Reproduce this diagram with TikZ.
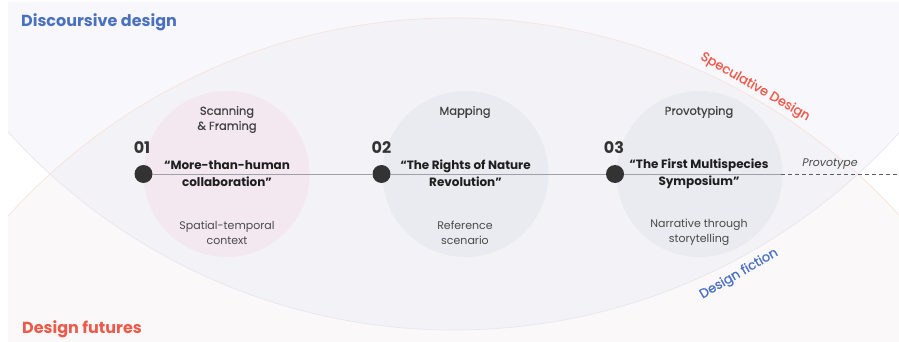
\documentclass[tikz,border=0pt]{standalone}
\usepackage{fontspec}
\setmainfont{Poppins}
\definecolor{topbg}{HTML}{F8F7FB}
\definecolor{lensbg}{HTML}{F3F2F7}
\definecolor{botbg}{HTML}{FBF8FA}
\definecolor{pinkc}{HTML}{F3E8F0}
\definecolor{grayc}{HTML}{EAEAF1}
\definecolor{dotc}{HTML}{333333}
\definecolor{linec}{HTML}{A0A0A8}
\definecolor{bluet}{HTML}{4A70C0}
\definecolor{redt}{HTML}{EE5A4A}
\definecolor{txt}{HTML}{1E1E1E}
\definecolor{subt}{HTML}{4A4A4A}
\definecolor{arcS}{HTML}{F5E3DC}
\definecolor{arcF}{HTML}{E6E6EF}
\begin{document}
\begin{tikzpicture}[x=1pt,y=-1pt,
  stepc/.style={circle,minimum size=166pt,inner sep=0pt},
  dotn/.style={circle,fill=dotc,minimum size=18pt,inner sep=0pt},
  steplbl/.style={inner sep=0pt,align=center,text=txt!85,font=\fontsize{11.5}{15}\selectfont\addfontfeature{FakeBold=0.5}},
  numl/.style={inner sep=0pt,text=dotc,font=\fontsize{16}{18}\selectfont\bfseries},
  ttl/.style={inner sep=0pt,align=center,text=txt,font=\fontsize{12}{17}\selectfont\bfseries},
  subl/.style={inner sep=0pt,align=center,text=subt,font=\fontsize{11}{15}\selectfont},
  provo/.style={inner sep=0pt,text=subt,font=\fontsize{11}{13}\selectfont\itshape},
  areal/.style={inner sep=0pt,font=\fontsize{16}{18}\selectfont\bfseries},
  rotl/.style={inner sep=0pt,font=\fontsize{13}{15}\selectfont\addfontfeature{FakeBold=0.6}},
  conn/.style={draw=linec,line width=0.9pt},
  dashconn/.style={draw=dotc!80,line width=0.9pt,dash pattern=on 4pt off 3pt}]
\useasboundingbox (0,0) rectangle (899,342);
% regions
\begin{scope}
  \clip (454,-271) circle[radius=601pt];
  \fill[topbg,even odd rule] (8,2) rectangle (899,342) (454,619) circle[radius=601pt];
  \fill[lensbg] (454,619) circle[radius=601pt];
\end{scope}
\begin{scope}
  \clip (454,619) circle[radius=601pt];
  \fill[botbg,even odd rule] (8,2) rectangle (899,342) (454,-271) circle[radius=601pt];
\end{scope}
\begin{scope}
  \clip (8,2) rectangle (899,342);
  \draw[arcS,line width=0.7pt] (454,619) circle[radius=601pt];
  \draw[arcF,line width=0.7pt] (454,-271) circle[radius=601pt];
\end{scope}
% step circles
\node[stepc,fill=pinkc] (c1) at (226.5,174) {};
\node[stepc,fill=grayc] (c2) at (465.5,174) {};
\node[stepc,fill=grayc] (c3) at (699.5,174) {};
% dots and line
\node[dotn] (d1) at (143.5,174) {};
\node[dotn] (d2) at (381.5,174) {};
\node[dotn] (d3) at (615,174) {};
\coordinate (se) at (781,174);
\coordinate (de) at (899,174);
\draw[conn] (d1) -- (d2);
\draw[conn] (d2) -- (d3);
\draw[conn] (d3) -- (se);
\draw[dashconn] (se) -- (de);
% texts
\node[steplbl] (l1) at (227,119.5) {Scanning\\\& Framing};
\node[steplbl] (l2) at (465,112) {Mapping};
\node[steplbl] (l3) at (699,112) {Provotyping};
\node[numl] (n1) at (142,148) {01};
\node[numl] (n2) at (381.5,148) {02};
\node[numl] (n3) at (614,148) {03};
\node[ttl] (t1) at (227,173.5) {“More-than-human\\collaboration”};
\node[ttl] (t2) at (465.5,173.5) {“The Rights of Nature\\Revolution”};
\node[ttl] (t3) at (699,173.5) {“The First Multispecies\\Symposium”};
\node[subl] (s1) at (227,232.5) {Spatial-temporal\\context};
\node[subl] (s2) at (465,232.5) {Reference\\scenario};
\node[subl] (s3) at (699,232.5) {Narrative through\\storytelling};
\node[provo] (pv) at (830,164) {Provotype};
\node[areal,text=bluet,anchor=base west] (dd) at (21,27) {Discoursive design};
\node[areal,text=redt,anchor=base west] (dfu) at (22,333) {Design futures};
\node[rotl,text=redt,rotate=-30] (sd) at (755,87) {Speculative Design};
\node[rotl,text=bluet,rotate=30] (dfi) at (739,274) {Design fiction};
\end{tikzpicture}
\end{document}
